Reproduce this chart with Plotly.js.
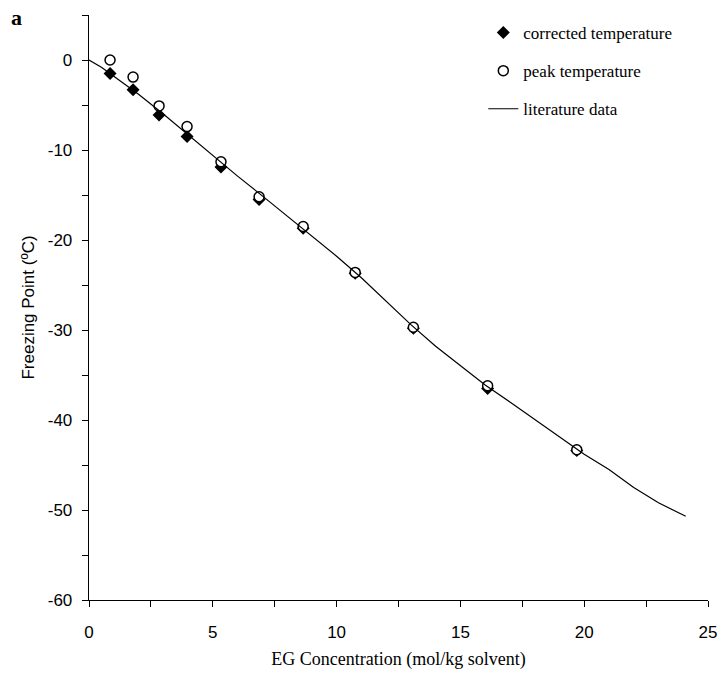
<!DOCTYPE html>
<html>
<head>
<meta charset="utf-8">
<script src="https://cdn.plot.ly/plotly-3.0.1.min.js"></script>
<style>html,body{margin:0;padding:0;background:#fff;}#chart{width:727px;height:700px;}</style>
</head>
<body>
<div id="chart"></div>
<script>
// EG concentration (mol/kg solvent) of measured samples
const sampleConc = [0.85, 1.78, 2.83, 3.96, 5.33, 6.87, 8.65, 10.75, 13.1, 16.1, 19.7];
const correctedTemp = [-1.5, -3.3, -6.1, -8.5, -11.9, -15.5, -18.7, -23.7, -29.8, -36.5, -43.4];
const peakTemp = [0.0, -1.9, -5.1, -7.4, -11.3, -15.2, -18.5, -23.6, -29.7, -36.2, -43.3];
// literature curve
const litConc = [0, 0.5, 1, 1.5, 2, 3, 4, 5, 6, 7, 8, 9, 10, 11, 12, 13, 14, 15, 16, 17, 18, 19, 20, 21, 22, 23, 24.1];
const litTemp = [0, -0.8, -1.8, -2.8, -3.8, -6.0, -8.3, -10.7, -12.9, -15.1, -17.3, -19.5, -21.8, -24.2, -26.8, -29.4, -31.8, -34.0, -36.1, -38.0, -39.9, -41.8, -43.8, -45.5, -47.5, -49.2, -50.7];
const xTickVals = [0, 5, 10, 15, 20, 25];
const xTickText = ['0', '5', '10', '15', '20', '25'];
const yTickVals = [0, -10, -20, -30, -40, -50, -60];
const yTickText = ['0', '-10', '-20', '-30', '-40', '-50', '-60'];

const serif = 'Liberation Serif, Times New Roman, serif';
const sans = 'Liberation Sans, Arial, sans-serif';

const traces = [
  {
    x: sampleConc, y: correctedTemp, mode: 'markers', type: 'scatter',
    name: 'corrected temperature', legendgroup: 'a',
    marker: {symbol: 'diamond', size: 10, color: '#000'}
  },
  {
    x: sampleConc, y: peakTemp, mode: 'markers', type: 'scatter',
    name: 'peak temperature', legendgroup: 'b',
    marker: {symbol: 'circle', size: 10, color: '#fff', line: {color: '#000', width: 1.5}}
  },
  {
    x: litConc, y: litTemp, mode: 'lines', type: 'scatter',
    name: 'literature data', legendgroup: 'c',
    line: {color: '#000', width: 1.2}
  }
];

const layout = {
  width: 727, height: 700,
  margin: {l: 89, r: 19, t: 15, b: 100},
  paper_bgcolor: '#fff', plot_bgcolor: '#fff',
  showlegend: true,
  legend: {
    x: 0.637, y: 1.0, xanchor: 'left', yanchor: 'top',
    font: {family: serif, size: 17, color: '#000'},
    tracegroupgap: 13, bgcolor: 'rgba(0,0,0,0)'
  },
  xaxis: {
    range: [0, 25], showgrid: false, zeroline: false,
    showline: true, linecolor: '#000', linewidth: 1.3,
    ticks: 'outside', ticklen: 6, tickcolor: '#000',
    tickvals: xTickVals, ticktext: xTickText,
    ticklabelstandoff: 10,
    minor: {dtick: 2.5, tick0: 0, ticks: 'outside', ticklen: 6, tickcolor: '#000', showgrid: false},
    tickfont: {family: sans, size: 17, color: '#000'},
    title: {text: 'EG Concentration (mol/kg solvent)', font: {family: serif, size: 18, color: '#000'}, standoff: 11}
  },
  yaxis: {
    range: [-60, 5], showgrid: false, zeroline: false,
    showline: true, linecolor: '#000', linewidth: 1.3,
    ticks: 'outside', ticklen: 6, tickcolor: '#000',
    tickvals: yTickVals, ticktext: yTickText,
    ticklabelstandoff: 6,
    minor: {dtick: 5, tick0: 0, ticks: 'outside', ticklen: 6, tickcolor: '#000', showgrid: false},
    tickfont: {family: sans, size: 17, color: '#000'},
    title: {text: 'Freezing Point (ºC)', font: {family: sans, size: 17, color: '#000'}, standoff: 8}
  },
  annotations: [
    {text: '<b>a</b>', xref: 'paper', yref: 'paper', x: -0.13, y: 0.995, xanchor: 'left', yanchor: 'middle',
     showarrow: false, font: {family: serif, size: 22, color: '#000'}}
  ]
};

Plotly.newPlot('chart', traces, layout, {displayModeBar: false, staticPlot: true});
</script>
</body>
</html>
